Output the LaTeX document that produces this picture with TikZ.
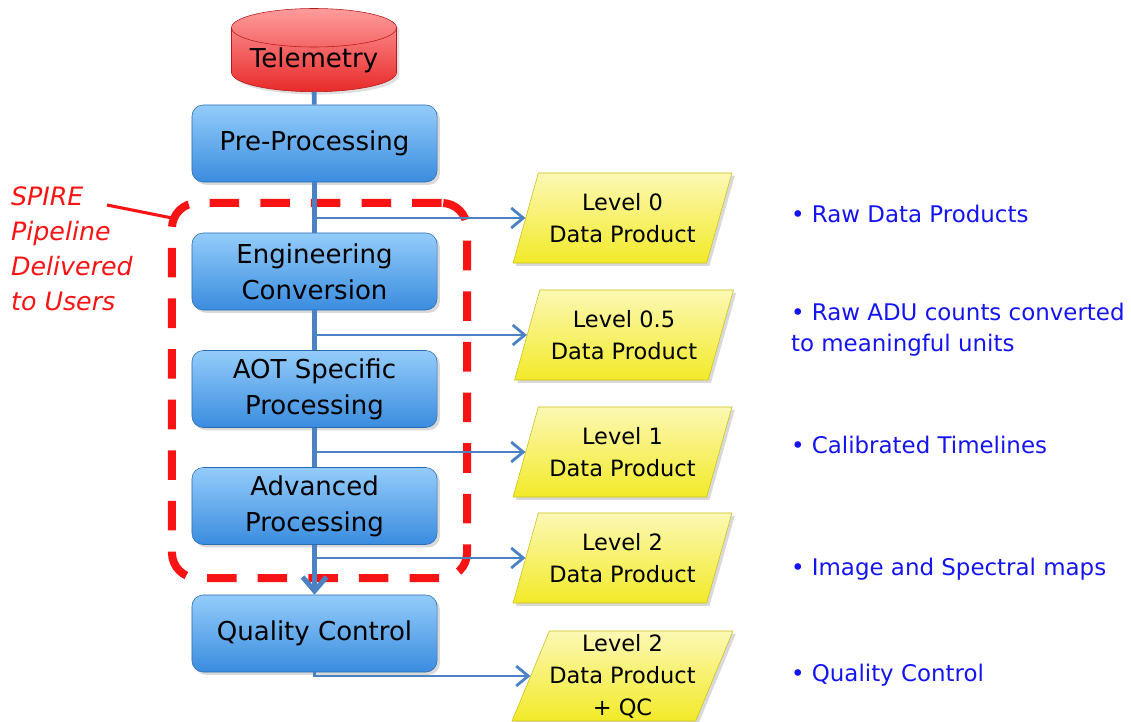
\documentclass[tikz,border=0pt]{standalone}
\usepackage{fontspec}
\setmainfont{DejaVu Sans}
\usetikzlibrary{arrows.meta,positioning,fit,calc,shapes.geometric,shadows}
\definecolor{teltop}{HTML}{FF9C9C}
\definecolor{telbot}{HTML}{E82A2A}
\definecolor{teledge}{HTML}{B81818}
\definecolor{boxtop}{HTML}{94CCFA}
\definecolor{boxbot}{HTML}{3A8CDF}
\definecolor{boxedge}{HTML}{2C6CB4}
\definecolor{yeltop}{HTML}{FCF8B4}
\definecolor{yelbot}{HTML}{F2EA28}
\definecolor{yeledge}{HTML}{C8C01C}
\definecolor{flowcol}{HTML}{4A82C4}
\definecolor{spirered}{HTML}{F81414}
\definecolor{notecol}{HTML}{1414F0}

\begin{document}
\begin{tikzpicture}[x=0.025cm,y=-0.025cm, every node/.style={align=center,inner sep=2pt},
  procbox/.style={draw=boxedge,rounded corners=8pt,top color=boxtop,bottom color=boxbot,minimum width=6.125cm,minimum height=1.925cm,font=\fontsize{18.5}{25.5}\selectfont,drop shadow={opacity=0.3,shadow xshift=2pt,shadow yshift=-2pt}},
  product/.style={trapezium,trapezium left angle=66,trapezium right angle=114,trapezium stretches=true,draw=yeledge,top color=yeltop,bottom color=yelbot,minimum width=5.475cm,minimum height=2.25cm,inner sep=0pt,font=\fontsize{16}{22.7}\selectfont,drop shadow={opacity=0.3,shadow xshift=2pt,shadow yshift=-2pt}},
  note/.style={anchor=west,align=left,text=notecol,font=\fontsize{16.3}{22}\selectfont},
  pipeline/.style={draw=spirered,line width=5.7pt,dash pattern=on 21pt off 15pt,rounded corners=18pt},
  trunk/.style={line width=3.5pt,draw=flowcol},
  arr/.style={-{Straight Barb[length=3mm,width=5mm]},line width=2pt,draw=flowcol}]
\useasboundingbox (0,0) rectangle (1131,722);
% pipeline steps
\node[cylinder,shape border rotate=90,aspect=0.3,inner sep=0pt,draw=teledge,top color=teltop,bottom color=telbot,minimum width=4.125cm,minimum height=2.05cm,anchor=south,font=\fontsize{18.5}{25.5}\selectfont,drop shadow={opacity=0.25,shadow xshift=2pt,shadow yshift=-2pt}] (tel) at (314,92) {Telemetry};
\node[procbox] (pre) at (314.5,143.5) {Pre-Processing};
\node[procbox] (eng) at (314.5,271.5) {Engineering\\Conversion};
\node[procbox] (aot) at (314.5,389) {AOT Specific\\Processing};
\node[procbox] (adv) at (314.5,506) {Advanced\\Processing};
\node[procbox] (qc) at (314.5,633.5) {Quality Control};
% products
\node[product] (lev0) at (622.5,218) {Level 0\\Data Product};
\node[product] (lev05) at (624,335) {Level 0.5\\Data Product};
\node[product] (lev1) at (622.5,452) {Level 1\\Data Product};
\node[product] (lev2) at (622.5,558) {Level 2\\Data Product};
\node[product] (lev2qc) at (622.5,676) {Level 2\\Data Product\\+ QC};
% delivered part
\node[pipeline,minimum width=7.375cm,minimum height=9.375cm] (pipe) at (319.5,390.5) {};
\node[anchor=north west,align=left,text=spirered,font=\itshape\fontsize{18}{24.8}\selectfont] (spire) at (8,184) {SPIRE\\Pipeline\\Delivered\\to Users};
\coordinate (callfrom) at (107,205);
\coordinate (callto) at (172,218);
\draw[spirered,line width=2.2pt] (callfrom) -- (callto);
% flow
\draw[trunk] (tel) -- (pre);\draw[trunk] (pre) -- (eng);\draw[trunk] (eng) -- (aot);\draw[trunk] (aot) -- (adv);
\draw[trunk,-{Straight Barb[length=3.5mm,width=6mm]}] (adv) -- (qc);
\draw[arr] (pre.south |- lev0.west) -- (lev0.west);
\draw[arr] (eng.south |- lev05.west) -- (lev05.west);
\draw[arr] (aot.south |- lev1.west) -- (lev1.west);
\draw[arr] (adv.south |- lev2.west) -- (lev2.west);
\draw[arr] (qc.south) |- (lev2qc.west);
% notes
\node[note] (n0) at (788,214) {• Raw Data Products};
\node[note] (n05) at (788,330) {• Raw ADU counts converted\\to meaningful units};
\node[note] (n1) at (788,445) {• Calibrated Timelines};
\node[note] (n2) at (788,569) {• Image and Spectral maps};
\node[note] (n3) at (788,675) {• Quality Control};
\end{tikzpicture}
\end{document}
